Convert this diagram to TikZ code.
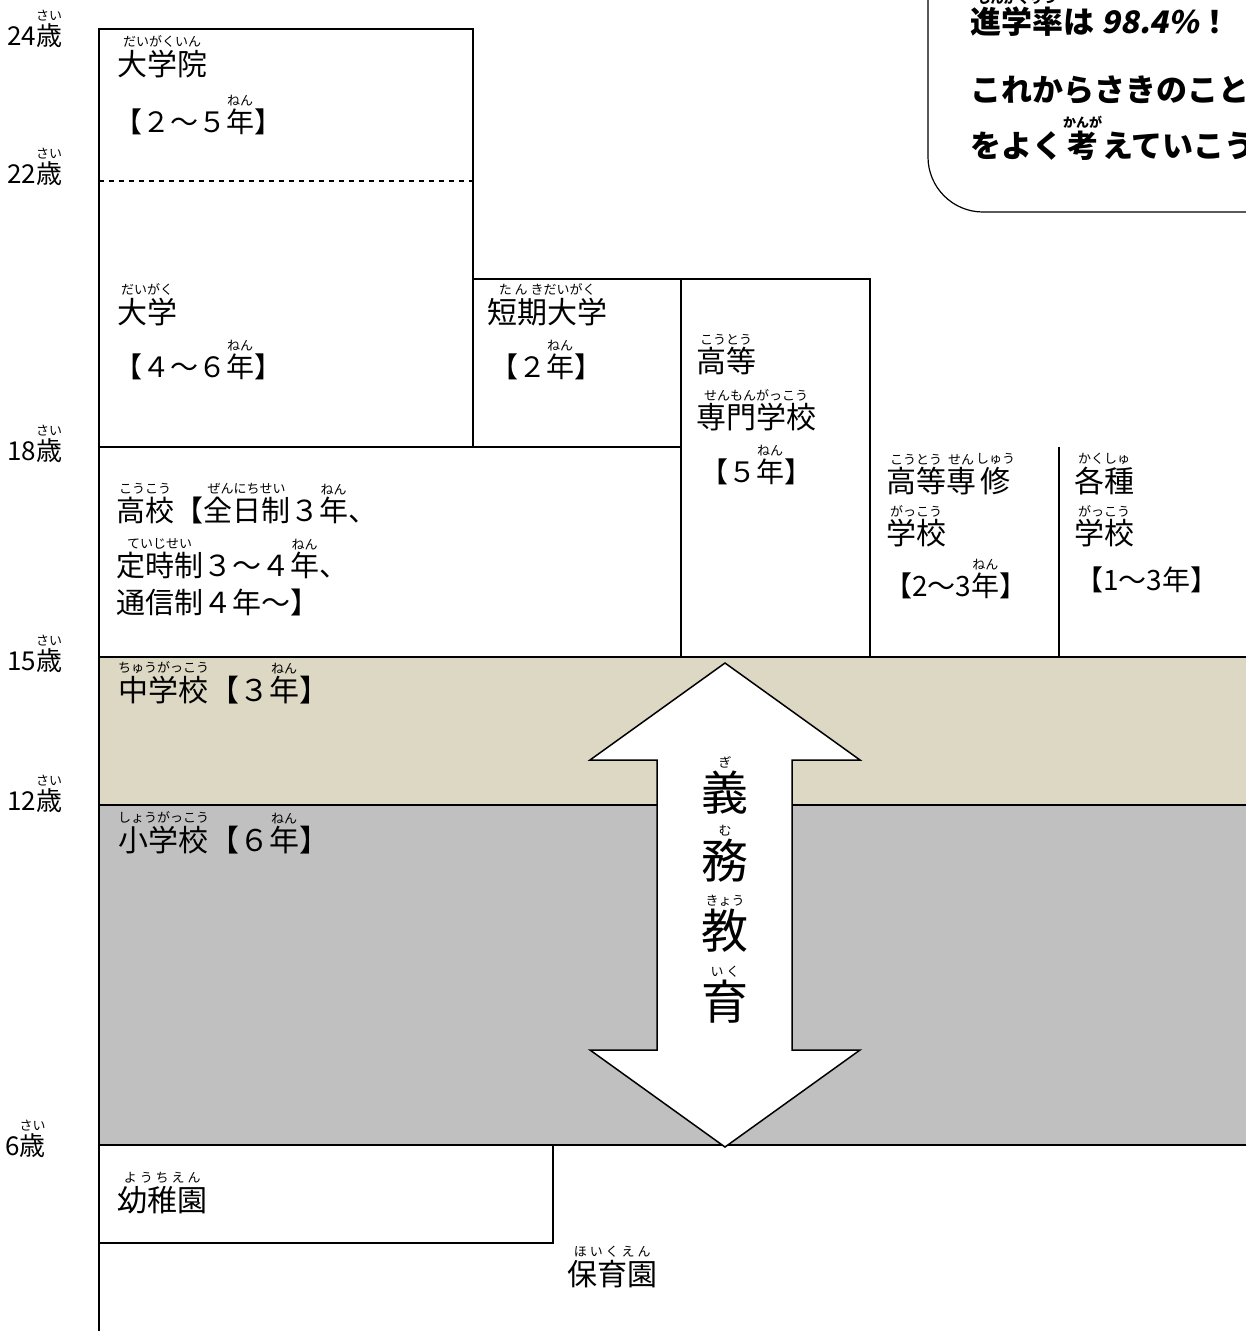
\documentclass[tikz,border=0pt]{standalone}
\usepackage{fontspec}
\setmainfont{Noto Sans CJK JP}
\newfontfamily\slfont{Noto Sans CJK JP}[FakeSlant=0.2]
\definecolor{jhs}{RGB}{221,216,195}
\definecolor{esc}{RGB}{192,192,192}
\newdimen\rbw \newbox\rbA \newbox\rbB
\newcommand\rubyfont{\fontsize{13}{13}\selectfont}
\newcommand\rb[2]{\leavevmode\setbox\rbA\hbox{#1}\setbox\rbB\hbox{\rubyfont #2}%
 \rbw=\wd\rbA \ifdim\wd\rbB>\rbw \rbw=\wd\rbB \fi
 \vbox{\offinterlineskip\hbox to\rbw{\hss\box\rbB\hss}\kern2pt\hbox to\rbw{\hss\box\rbA\hss}}}
\tikzset{
 bline/.style={line width=2pt},
 nmtxt/.style={anchor=base west, inner sep=0pt, font=\fontsize{30}{34}\selectfont},
 tmtxt/.style={anchor=base west, inner sep=0pt, font=\fontsize{28}{32}\selectfont},
 agetxt/.style={anchor=base west, inner sep=0pt, font=\fontsize{26}{30}\selectfont},
 verttxt/.style={anchor=base, inner sep=0pt, font=\fontsize{47}{50}\selectfont},
 calltxt/.style={anchor=base west, inner sep=0pt, font=\bfseries\fontsize{31}{36}\selectfont},
}
\begin{document}
\begin{tikzpicture}[x=1pt,y=-1pt]
\useasboundingbox (0,0) rectangle (1246,1331);
\clip (0,0) rectangle (1246,1331);
\fill[white] (0,0) rectangle (1246,1331);
% bands
\fill[jhs] (99,657) rectangle (1260,805);
\fill[esc] (99,805) rectangle (1260,1145);
\draw[bline] (99,657) -- (1260,657);
\draw[bline] (99,805) -- (1260,805);
\draw[bline] (99,1145) -- (1260,1145);
% left axis line
\draw[bline] (99,29) -- (99,1340);
% boxes
\draw[bline] (99,29) rectangle (473,447);
\draw[line width=1.5pt, dash pattern=on 5pt off 5pt] (99,181) -- (473,181);
\draw[bline] (473,279) rectangle (681,447);
\draw[bline] (681,279) rectangle (870,657);
\draw[bline] (99,447) rectangle (681,657);
\draw[bline] (1059,447) -- (1059,657);
\draw[bline] (99,1145) rectangle (553,1243);
% arrow
\draw[line width=1.5pt, fill=white] (725,663) -- (860,760) -- (792,760) -- (792,1050) -- (860,1050) -- (725,1147) -- (590,1050) -- (657,1050) -- (657,760) -- (590,760) -- cycle;
% callout
\draw[line width=1.2pt, fill=white, rounded corners=55pt] (928,-100) rectangle (1400,212);
\node[calltxt] (c1) at (970,33) {\rb{進学率}{しんがくりつ}は {\slfont\bfseries 98.4\%}！};
\node[calltxt] (c2) at (970,101) {これからさきのこと};
\node[calltxt] (c3) at (970,157) {をよく\rb{考}{かんが}えていこう};
% ages
\node[agetxt] (a24) at (7,45) {24\rb{歳}{さい}};
\node[agetxt] (a22) at (7,183) {22\rb{歳}{さい}};
\node[agetxt] (a18) at (7,460) {18\rb{歳}{さい}};
\node[agetxt] (a15) at (7,670) {15\rb{歳}{さい}};
\node[agetxt] (a12) at (7,810) {12\rb{歳}{さい}};
\node[agetxt] (a6) at (5,1155) {6\rb{歳}{さい}};
% labels
\node[nmtxt] (dgi) at (117,75) {\rb{大学院}{だいがくいん}};
\node[tmtxt] (dgiy) at (114,132) {【２～５\rb{年}{ねん}】};
\node[nmtxt] (dg) at (117,323) {\rb{大学}{だいがく}};
\node[tmtxt] (dgy) at (114,377) {【４～６\rb{年}{ねん}】};
\node[nmtxt] (tk) at (487,323) {\rb{短期大学}{た ん きだいがく}};
\node[tmtxt] (tky) at (490,377) {【２\rb{年}{ねん}】};
\node[nmtxt] (ks1) at (696,372) {\rb{高等}{こうとう}};
\node[nmtxt] (ks2) at (696,428) {\rb{専門学校}{せんもんがっこう}};
\node[tmtxt] (ksy) at (700,482) {【５\rb{年}{ねん}】};
\node[nmtxt] (sn1) at (886,492) {\rb{高等}{こうとう}\rb{専}{せん}\rb{修}{しゅう}};
\node[nmtxt] (sn2) at (886,544) {\rb{学校}{がっこう}};
\node[tmtxt] (sny) at (884,596) {【2～3\rb{年}{ねん}】};
\node[nmtxt] (kk1) at (1074,492) {\rb{各種}{かくしゅ}};
\node[nmtxt] (kk2) at (1074,544) {\rb{学校}{がっこう}};
\node[tmtxt] (kky) at (1075,590) {【1～3年】};
\node[tmtxt,font=\fontsize{29}{32}\selectfont] (hs1) at (116,521) {\rb{高校}{こうこう}【\rb{全日制}{ぜんにちせい}３\rb{年}{ねん}、};
\node[tmtxt,font=\fontsize{29}{32}\selectfont] (hs2) at (116,576) {\rb{定時制}{ていじせい}３～４\rb{年}{ねん}、};
\node[tmtxt,font=\fontsize{29}{32}\selectfont] (hs3) at (116,613) {通信制４年～】};
\node[nmtxt] (jh) at (118,701) {\rb{中学校}{ちゅうがっこう}【３\rb{年}{ねん}】};
\node[nmtxt] (el) at (118,851) {\rb{小学校}{しょうがっこう}【６\rb{年}{ねん}】};
\node[nmtxt] (yo) at (117,1211) {\rb{幼稚園}{よ う ち え ん}};
\node[nmtxt] (ho) at (567,1285) {\rb{保育園}{ほ い く え ん}};
% vertical
\node[verttxt] (v1) at (725,810) {\rb{義}{ぎ}};
\node[verttxt] (v2) at (725,878) {\rb{務}{む}};
\node[verttxt] (v3) at (725,948) {\rb{教}{きょう}};
\node[verttxt] (v4) at (725,1019) {\rb{育}{い く}};
\end{tikzpicture}
\end{document}
